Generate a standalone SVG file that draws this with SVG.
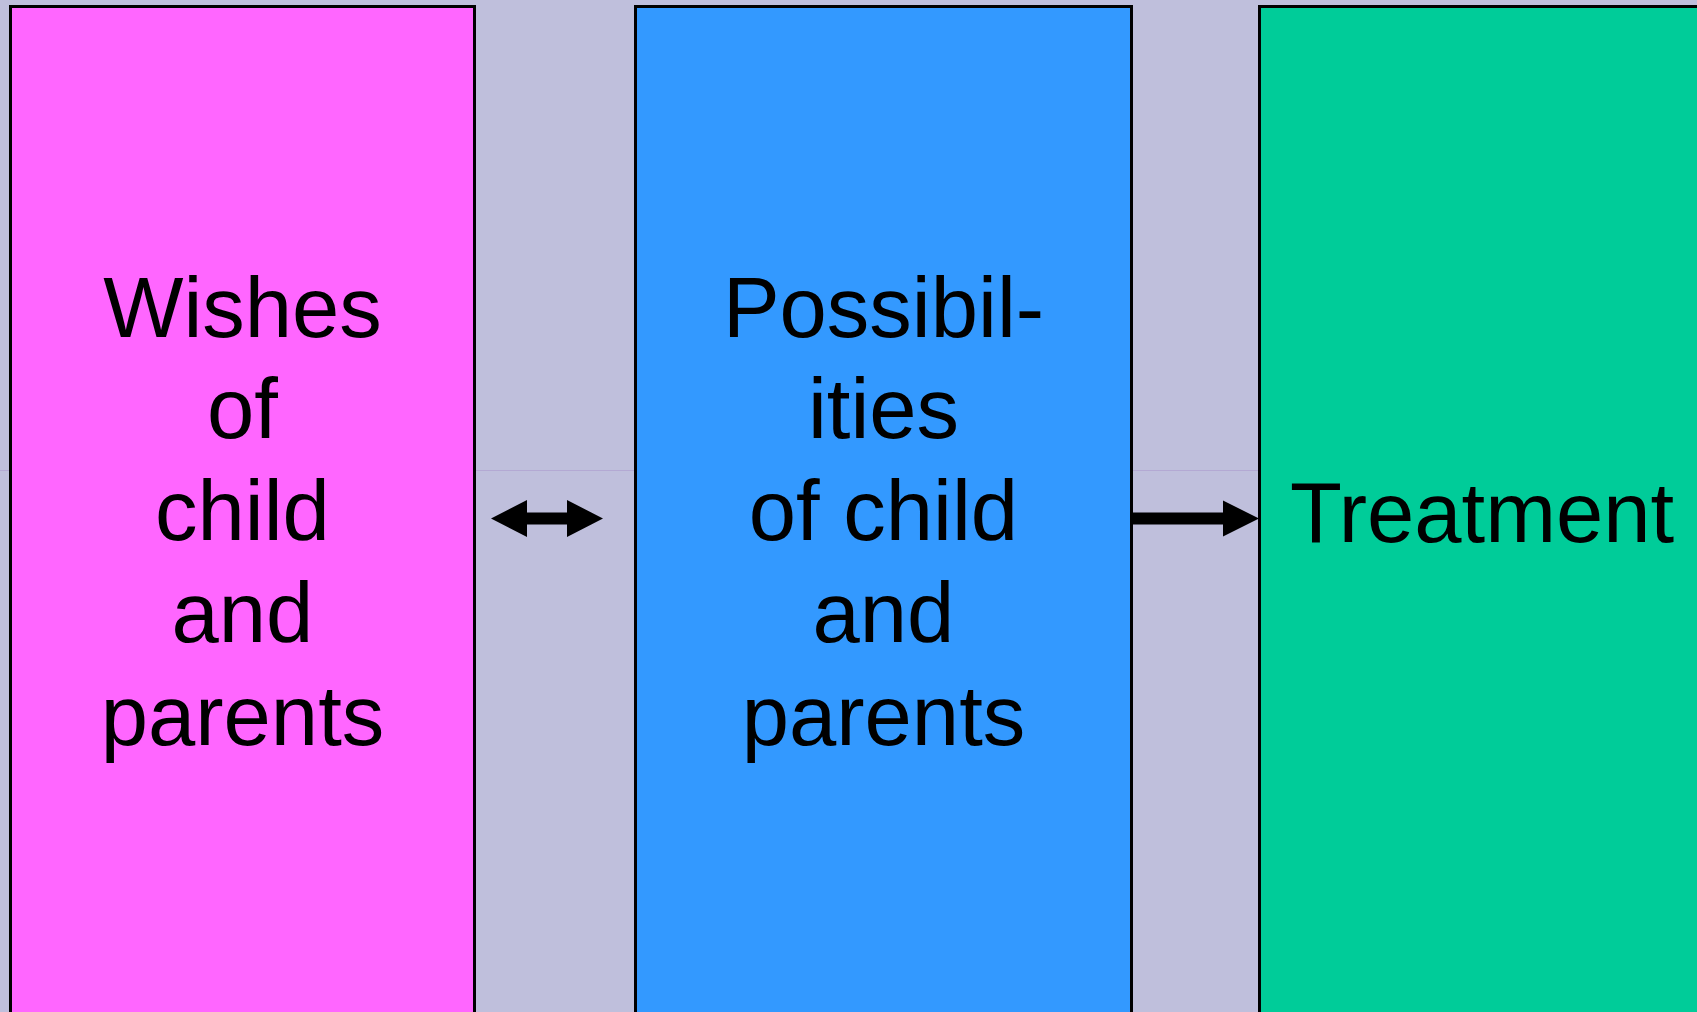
<svg xmlns="http://www.w3.org/2000/svg" width="1697" height="1012" viewBox="0 0 1697 1012">
<style>
.box{stroke:#000;stroke-width:3}
.lbl{font-family:"Liberation Sans",Arial,sans-serif;font-size:85px;fill:#000;text-anchor:middle}
.arrow{fill:#000}
</style>
<rect x="0" y="0" width="1697" height="1012" fill="#bfbfdc"/>
<line x1="0" y1="470.5" x2="1697" y2="470.5" stroke="#b3a9d3" stroke-width="1"/>
<g id="node-wishes">
<rect class="box" x="10.5" y="6.5" width="464" height="1020" fill="#ff66ff"/>
<text class="lbl" x="242.5"><tspan x="242.5" y="337">Wishes</tspan><tspan x="242.5" y="438">of</tspan><tspan x="242.5" y="540">child</tspan><tspan x="242.5" y="642">and</tspan><tspan x="242.5" y="745">parents</tspan></text>
</g>
<g id="node-possibilities">
<rect class="box" x="635.5" y="6.5" width="496" height="1020" fill="#3399ff"/>
<text class="lbl" x="883.5"><tspan x="883.5" y="337">Possibil-</tspan><tspan x="883.5" y="438">ities</tspan><tspan x="883.5" y="540">of child</tspan><tspan x="883.5" y="642">and</tspan><tspan x="883.5" y="745">parents</tspan></text>
</g>
<g id="node-treatment">
<rect class="box" x="1259.5" y="6.5" width="500" height="1020" fill="#00cc99"/>
<text class="lbl" x="1482" y="541.5">Treatment</text>
</g>
<g id="connectors">
<polygon class="arrow" points="491,518.5 527,500 527,512.5 567,512.5 567,500 603,518.5 567,537 567,524.5 527,524.5 527,537"/>
<polygon class="arrow" points="1132,512.5 1223,512.5 1223,500.5 1259,518.5 1223,536.5 1223,524.5 1132,524.5"/>
</g>
</svg>
